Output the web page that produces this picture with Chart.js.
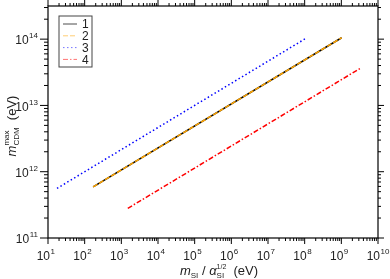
<!DOCTYPE html>
<html>
<head>
<meta charset="utf-8">
<script src="https://cdn.jsdelivr.net/npm/chart.js@4/dist/chart.umd.min.js"></script>
<style>
html,body{margin:0;padding:0;background:#fff;}
#wrap{width:390px;height:279px;position:relative;}
</style>
</head>
<body>
<div id="wrap"><canvas id="c" width="390" height="279"></canvas></div>
<script>
// ---- data ----
const seriesLabels = ['1', '2', '3', '4'];
const s1X = [170, 1.02e9];
const s1Y = [5.9e11, 1.05e14];
const s2X = [170, 1.02e9];
const s2Y = [5.9e11, 1.05e14];
const s3X = [17.6, 1.15e8];
const s3Y = [5.6e11, 1.05e14];
const s4X = [1.5e3, 3.2e9];
const s4Y = [2.8e11, 3.6e13];
const xDecades = [1, 2, 3, 4, 5, 6, 7, 8, 9, 10];
const yDecades = [11, 12, 13, 14];
const xMin = 1e1, xMax = 1e10;
const yMin = 1e11, yMax = Math.pow(10, 14.5);

function pts(xs, ys) { return xs.map((x, i) => ({x: x, y: ys[i]})); }

const styles = [
  {color: '#000000', dash: [], width: 1.5, order: 3},
  {color: '#FFA500', dash: [5, 2], width: 1.5, order: 0},
  {color: '#0000FF', dash: [1.5, 2.5], width: 1.5, order: 1},
  {color: '#FF0000', dash: [5, 2, 1.5, 2], width: 1.5, order: 2}
];
const seriesData = [pts(s1X, s1Y), pts(s2X, s2Y), pts(s3X, s3Y), pts(s4X, s4Y)];

const FONT = '"Liberation Sans", Arial, sans-serif';
const TXT = '#222';

const decor = {
  id: 'decor',
  afterDraw(chart) {
    const ctx = chart.ctx;
    const a = chart.chartArea;
    const xs = chart.scales.x, ys = chart.scales.y;
    ctx.save();
    ctx.strokeStyle = '#000';
    ctx.lineWidth = 1.2;
    ctx.strokeRect(a.left, a.top, a.right - a.left, a.bottom - a.top);
    ctx.lineWidth = 1;
    ctx.beginPath();
    for (let k = 0; k < xDecades.length; k++) {
      const d = xDecades[k];
      const px = xs.getPixelForValue(Math.pow(10, d));
      ctx.moveTo(px, a.bottom); ctx.lineTo(px, a.bottom + 6);
      ctx.moveTo(px, a.top); ctx.lineTo(px, a.top - 6);
      if (k < xDecades.length - 1) {
        for (let m = 2; m <= 9; m++) {
          const p = xs.getPixelForValue(m * Math.pow(10, d));
          ctx.moveTo(p, a.bottom); ctx.lineTo(p, a.bottom + 3);
          ctx.moveTo(p, a.top); ctx.lineTo(p, a.top - 3);
        }
      }
    }
    for (let k = 0; k < yDecades.length; k++) {
      const d = yDecades[k];
      const py = ys.getPixelForValue(Math.pow(10, d));
      ctx.moveTo(a.left, py); ctx.lineTo(a.left - 8, py);
      ctx.moveTo(a.right, py); ctx.lineTo(a.right + 6, py);
      for (let m = 2; m <= 9; m++) {
        const v = m * Math.pow(10, d);
        if (v > yMax) break;
        const p = ys.getPixelForValue(v);
        ctx.moveTo(a.left, p); ctx.lineTo(a.left - 4, p);
        ctx.moveTo(a.right, p); ctx.lineTo(a.right + 3, p);
      }
    }
    ctx.stroke();

    ctx.fillStyle = TXT;
    ctx.textBaseline = 'middle';
    for (const d of xDecades) {
      const px = xs.getPixelForValue(Math.pow(10, d));
      ctx.font = '12px ' + FONT;
      ctx.textAlign = 'right';
      ctx.fillText('10', px + 2, a.bottom + 19);
      ctx.font = '8px ' + FONT;
      ctx.textAlign = 'left';
      ctx.fillText(String(d), px + 2.5, a.bottom + 14);
    }
    for (const d of yDecades) {
      const py = ys.getPixelForValue(Math.pow(10, d));
      ctx.font = '8px ' + FONT;
      ctx.textAlign = 'right';
      const ew = ctx.measureText(String(d)).width;
      ctx.fillText(String(d), a.left - 10, py - 3);
      ctx.font = '12px ' + FONT;
      ctx.fillText('10', a.left - 10.5 - ew, py + 2);
    }

    function drawParts(list, cx, cy) {
      const widths = [];
      for (const p of list) {
        ctx.font = p.f + FONT;
        widths.push(ctx.measureText(p.t).width);
      }
      const pos = [];
      let cur = 0, prevStart = 0;
      for (let i = 0; i < list.length; i++) {
        const p = list[i];
        if (p.stack) {
          pos.push(prevStart);
          cur = Math.max(cur, prevStart + widths[i]);
        } else {
          pos.push(cur);
          prevStart = cur;
          cur += widths[i];
        }
      }
      const x0 = cx - cur / 2;
      ctx.textAlign = 'left';
      ctx.textBaseline = 'alphabetic';
      for (let i = 0; i < list.length; i++) {
        const p = list[i];
        ctx.font = p.f + FONT;
        ctx.fillText(p.t, x0 + pos[i], cy + p.dy);
      }
    }
    const xt = [
      {t: 'm', f: 'italic 13px ', dy: 0},
      {t: 'SI', f: '8px ', dy: 3},
      {t: ' / ', f: '13px ', dy: 0},
      {t: 'α', f: 'italic 13px ', dy: 0},
      {t: 'SI', f: '8px ', dy: 3},
      {t: '1/2', f: '7px ', dy: -6, stack: true},
      {t: '  (eV)', f: '13px ', dy: 0}
    ];
    drawParts(xt, (a.left + a.right) / 2 + 6, 275);

    ctx.save();
    ctx.translate(16, (a.top + a.bottom) / 2 + 4);
    ctx.rotate(-Math.PI / 2);
    const yt = [
      {t: 'm', f: 'italic 13px ', dy: 0},
      {t: 'CDM', f: '8px ', dy: 3},
      {t: 'max', f: '8px ', dy: -7, stack: true},
      {t: '  (eV)', f: '13px ', dy: 0}
    ];
    drawParts(yt, 0, 0);
    ctx.restore();

    const lx = a.left + 11, ly = a.top + 10;
    ctx.strokeStyle = '#444';
    ctx.lineWidth = 1;
    ctx.setLineDash([]);
    ctx.strokeRect(lx, ly, 33, 51);
    for (let i = 0; i < 4; i++) {
      const yy = ly + 8 + i * 11.8;
      ctx.strokeStyle = styles[i].color;
      ctx.setLineDash(styles[i].dash);
      ctx.lineWidth = 1;
      ctx.globalAlpha = i === 0 ? 0.7 : 0.55;
      ctx.beginPath();
      ctx.moveTo(lx + 4, yy); ctx.lineTo(lx + 18, yy);
      ctx.stroke();
      ctx.globalAlpha = 1;
      ctx.setLineDash([]);
      ctx.fillStyle = TXT;
      ctx.font = '12px ' + FONT;
      ctx.textAlign = 'left';
      ctx.textBaseline = 'middle';
      ctx.fillText(seriesLabels[i], lx + 23, yy + 1);
    }
    ctx.restore();
  }
};

new Chart(document.getElementById('c'), {
  type: 'line',
  data: {
    datasets: seriesData.map((d, i) => ({
      label: seriesLabels[i],
      data: d,
      borderColor: styles[i].color,
      borderDash: styles[i].dash,
      borderWidth: styles[i].width,
      pointRadius: 0,
      fill: false,
      tension: 0,
      order: styles[i].order
    }))
  },
  options: {
    responsive: false,
    animation: false,
    devicePixelRatio: 1,
    layout: {padding: {left: 48, right: 12, top: 6, bottom: 41}},
    plugins: {legend: {display: false}, tooltip: {enabled: false}},
    scales: {
      x: {type: 'logarithmic', min: xMin, max: xMax, display: false},
      y: {type: 'logarithmic', min: yMin, max: yMax, display: false}
    }
  },
  plugins: [decor]
});
</script>
</body>
</html>
